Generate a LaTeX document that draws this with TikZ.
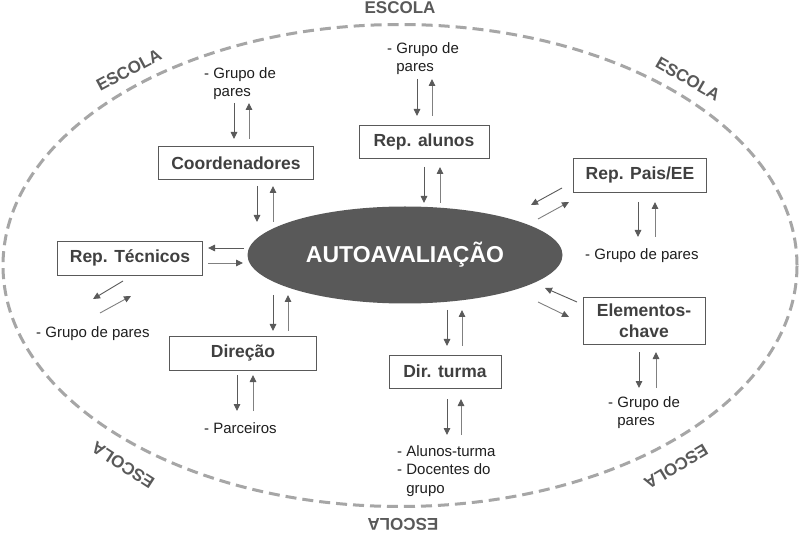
\documentclass[tikz,border=0pt]{standalone}
\usepackage{fontspec}
\setmainfont{Liberation Sans}
\usetikzlibrary{shapes.geometric,arrows.meta}
\definecolor{dg}{HTML}{595959}
\definecolor{lg}{HTML}{A6A6A6}
\definecolor{bx}{HTML}{404040}
\definecolor{ag}{HTML}{5A5A5A}
\definecolor{agb}{HTML}{808080}
\tikzset{
  box/.style={draw=dg, line width=0.9pt, fill=white, text=bx, font=\fontsize{17.5}{21}\selectfont\bfseries, inner sep=0pt, align=center},
  lbl/.style={text=black!88, font=\fontsize{15}{18.7}\selectfont, inner sep=0pt, anchor=north west, align=left},
  esc/.style={text=dg, font=\fontsize{17}{20}\selectfont\bfseries, inner sep=0pt},
  arr/.style={draw=ag, line width=0.9pt, -{Triangle[length=7pt,width=6.5pt]}},
  arrb/.style={draw=agb, line width=0.9pt, -{Triangle[length=7pt,width=6.5pt,color=ag,fill=ag]}},
}
\newcommand\myvpair[5]{%
  \coordinate (#1a1) at (#2,#4); \coordinate (#1a2) at (#2,#5);
  \coordinate (#1b1) at (#3,#5); \coordinate (#1b2) at (#3,#4);
  \draw[arr] (#1a1) -- (#1a2);
  \draw[arrb] (#1b1) -- (#1b2);}
\begin{document}
\begin{tikzpicture}[x=1pt,y=-1pt]
\useasboundingbox (0,0) rectangle (800,534);
\fill[white] (0,0) rectangle (800,534);
\draw[lg, line width=3pt, dash pattern=on 11pt off 6pt] (400,265.5) ellipse [x radius=397pt, y radius=241pt];

\node[ellipse, fill=dg, minimum width=315pt, minimum height=97pt, inner sep=0pt, text=white, font=\fontsize{23}{26}\selectfont\bfseries] (auto) at (405,255) {AUTOAVALIAÇÃO};

\node[box, minimum width=155pt, minimum height=33pt] (coord) at (236,163) {Coordenadores};
\node[box, minimum width=130pt, minimum height=33pt] (alunos) at (424,142) {Rep. alunos};
\node[box, minimum width=133pt, minimum height=34pt] (pais) at (640,175) {Rep. Pais/EE};
\node[box, minimum width=145pt, minimum height=34pt] (tec) at (130,258) {Rep. Técnicos};
\node[box, minimum width=147pt, minimum height=34pt] (dir) at (243,353) {Direção};
\node[box, minimum width=112pt, minimum height=33pt] (turma) at (445,371.5) {Dir. turma};
\node[box, minimum width=122pt, minimum height=47pt] (elem) at (644,320.5) {Elementos-\\chave};

\node[esc] (e1) at (400,8) {ESCOLA};
\node[esc, rotate=28] (e2) at (129,70) {ESCOLA};
\node[esc, rotate=-30] (e3) at (688,79) {ESCOLA};
\node[esc, rotate=147] (e4) at (123,465) {ESCOLA};
\node[esc, rotate=211] (e5) at (676,467) {ESCOLA};
\node[esc, rotate=180] (e6) at (403,524) {ESCOLA};

\node[lbl] (t1) at (204,67) {- Grupo de\\\hspace*{9.2pt}pares};
\node[lbl] (t2) at (387,42) {- Grupo de\\\hspace*{9.2pt}pares};
\node[lbl] (t3) at (585,248) {- Grupo de pares};
\node[lbl] (t4) at (36,326) {- Grupo de pares};
\node[lbl] (t5) at (204,422) {- Parceiros};
\node[lbl] (t6) at (397,445) {- Alunos-turma\\- Docentes do\\\hspace*{9.2pt}grupo};
\node[lbl] (t7) at (608,396) {- Grupo de\\\hspace*{9.2pt}pares};

\myvpair{ct}{234}{249}{103}{139}
\myvpair{cb}{257}{273}{186}{222}
\myvpair{at}{417}{432}{79}{116}
\myvpair{ab}{424}{440}{167}{203}
\myvpair{pb}{638}{655}{202}{237}
\myvpair{dt}{273}{288}{295}{331}
\myvpair{db}{237}{253}{375}{411}
\myvpair{tt}{447}{462}{310}{346}
\myvpair{tb}{447}{461}{399}{435}
\myvpair{eb}{639}{656}{352}{388}

\coordinate (p1) at (562,188); \coordinate (p2) at (531,205);
\coordinate (p3) at (538,219); \coordinate (p4) at (569,202);
\draw[arr] (p1) -- (p2); \draw[arrb] (p3) -- (p4);

\coordinate (h1) at (244,248); \coordinate (h2) at (208,248);
\coordinate (h3) at (208,263); \coordinate (h4) at (243,263);
\draw[arr] (h1) -- (h2); \draw[arrb] (h3) -- (h4);

\coordinate (g1) at (123,281); \coordinate (g2) at (93,299);
\coordinate (g3) at (100,313); \coordinate (g4) at (131,296);
\draw[arr] (g1) -- (g2); \draw[arrb] (g3) -- (g4);

\coordinate (k1) at (577,302); \coordinate (k2) at (545,288);
\coordinate (k3) at (538,302); \coordinate (k4) at (569,317);
\draw[arr] (k1) -- (k2); \draw[arrb] (k3) -- (k4);
\end{tikzpicture}
\end{document}
